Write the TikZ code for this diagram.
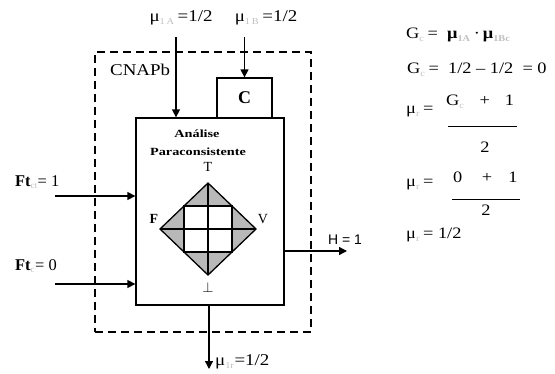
\documentclass[tikz,border=0pt]{standalone}
\usepackage{fontspec}
\usepackage{graphicx}
\setmainfont{Liberation Serif}
\newfontfamily\arialf{Liberation Sans}
\usetikzlibrary{arrows.meta}
\newcommand\sbx[1]{\textsubscript{\textcolor{black!25}{\fontsize{9}{9}\selectfont #1}}}
\newcommand\wid[1]{\scalebox{1.15}[1]{#1}}
\begin{document}
\begin{tikzpicture}[x=1bp,y=-1bp,
  box/.style={draw,line width=1.3bp,inner sep=0pt},
  dbox/.style={draw,line width=1.3bp,dash pattern=on 8bp off 5bp,inner sep=0pt},
  arr/.style={line width=1.3bp,-{Triangle[length=8bp,width=8bp]}},
  ln/.style={line width=1.3bp},
  lbl/.style={inner sep=0pt,font=\fontsize{16.5}{16.5}\selectfont},
  eq/.style={inner sep=0pt,anchor=west,font=\fontsize{16}{16}\selectfont}]
\useasboundingbox (0,0) rectangle (555,373);
% boxes
\node[dbox,minimum width=216bp,minimum height=280bp] (outer) at (203,192) {};
\node[box,fill=white,minimum width=148bp,minimum height=187bp] (anal) at (210,211.5) {};
\node[box,minimum width=55bp,minimum height=40bp] (cbox) at (244.5,98) {\fontsize{18}{18}\selectfont\textbf{C}};
\node[lbl,anchor=west] (cnap) at (110,70) {\wid{CNAPb}};
% inputs top
\coordinate (a1) at (176,37);
\coordinate (b1) at (244.5,37);
\draw[arr] (a1) -- (a1 |- anal.north);
\draw[arr] (b1) -- (cbox.north);
\node[lbl] (mua) at (181,18) {\wid{μ\sbx{1\,A}\,=1/2}};
\node[lbl] (mub) at (266,18) {\wid{μ\sbx{1\,B}\,=1/2}};
% inputs left
\coordinate (f1) at (55,196);
\coordinate (f2) at (55,284);
\draw[arr] (f1) -- (f1 -| anal.west);
\draw[arr] (f2) -- (f2 -| anal.west);
\node[lbl,anchor=west] (ft1) at (15,182) {\textbf{Ft}\sbx{ct}= 1};
\node[lbl,anchor=west] (ft2) at (15,266) {\textbf{Ft}\sbx{c}= 0};
% output right
\coordinate (h0) at (anal.east |- 0,251);
\coordinate (h1) at (347,251);
\draw[arr] (h0) -- (h1);
\node[inner sep=0pt,font=\arialf\fontsize{14}{14}\selectfont] (hl) at (345,240) {H = 1};
% output bottom
\coordinate (m0) at (209,305);
\coordinate (m1) at (209,369);
\draw[arr] (m0) -- (m1);
\node[lbl,anchor=west] (mur) at (215,362) {\wid{μ\sbx{1r}=1/2}};
% inner text
\node[inner sep=0pt,font=\fontsize{11}{11}\selectfont\bfseries] (t1) at (197,134) {\scalebox{1.3}[1]{Análise}};
\node[inner sep=0pt,font=\fontsize{11}{11}\selectfont\bfseries] (t2) at (198,152) {\scalebox{1.3}[1]{Paraconsistente}};
% lattice
\coordinate (dc) at (208,229);
\coordinate (dt) at (208,183);
\coordinate (db) at (208,275);
\coordinate (dl) at (160,229);
\coordinate (dr) at (256,229);
\fill[black!28] (dt) -- (dr) -- (db) -- (dl) -- cycle;
\fill[white] (184,206) rectangle (232,252);
\draw[ln] (dt) -- (dr) -- (db) -- (dl) -- cycle;
\draw[ln] (184,206) rectangle (232,252);
\draw[ln] (dt) -- (db);
\draw[ln] (dl) -- (dr);
\node[lbl,font=\fontsize{14}{14}\selectfont] (lt) at (208,167) {T};
\node[lbl,font=\fontsize{14}{14}\selectfont\bfseries] (lf) at (154,219) {F};
\node[lbl,font=\fontsize{14}{14}\selectfont] (lv) at (263,219) {V};
\node[lbl,font=\fontsize{14}{14}\selectfont] (lb) at (208,288) {$\perp$};
% equations
\node[eq] (e1) at (406,35) {\wid{G\sbx{c}\,=\ \ \textbf{μ\sbx{1A}}\,·\,\textbf{μ\sbx{1Bc}}}};
\node[eq] (e2) at (407,70) {\wid{G\sbx{c}\,=\ \ 1/2 – 1/2\ \ = 0}};
\node[eq] (e3) at (406,112) {\wid{μ\sbx{r}\,=}};
\node[eq] (n3) at (446,102) {\wid{G\sbx{c}\hspace{13bp}+\hspace{13bp}1}};
\draw[line width=1bp] (448,126) -- (517,126);
\node[eq,anchor=center] (d3) at (485,147) {\wid{2}};
\node[eq] (e4) at (406,185) {\wid{μ\sbx{r}\,=}};
\node[eq] (n4) at (453,177) {\wid{0\hspace{17bp}+\hspace{14bp}1}};
\draw[line width=1bp] (452,199) -- (520,199);
\node[eq,anchor=center] (d4) at (486,210) {\wid{2}};
\node[eq] (e5) at (406,235) {\wid{μ\sbx{r}\,= 1/2}};
\end{tikzpicture}
\end{document}
